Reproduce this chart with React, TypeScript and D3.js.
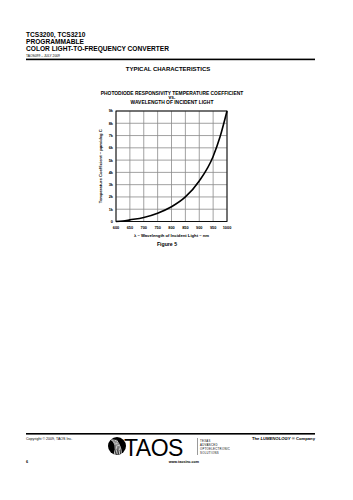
import React from "react";
import * as d3 from "d3";

const wavelengths = [600, 625, 650, 700, 750, 800, 850, 900, 950, 975, 1000];
const tempCoef = [0, 40, 130, 330, 680, 1200, 2000, 3300, 5300, 6900, 9000];
const xTicks = [600, 650, 700, 750, 800, 850, 900, 950, 1000];
const yTicks = [0, 1000, 2000, 3000, 4000, 5000, 6000, 7000, 8000, 9000];
const yTickLabels = ["0", "1k", "2k", "3k", "4k", "5k", "6k", "7k", "8k", "9k"];
const headerLines = ["TCS3200, TCS3210", "PROGRAMMABLE", "COLOR LIGHT-TO-FREQUENCY CONVERTER"];
const titleLines = ["PHOTODIODE RESPONSIVITY TEMPERATURE COEFFICIENT", "vs.", "WAVELENGTH OF INCIDENT LIGHT"];
const taosWords = ["TEXAS", "ADVANCED", "OPTOELECTRONIC", "SOLUTIONS"];

const W = 353, H = 500;
const plot = { left: 116, right: 227, top: 111, bottom: 221.5 };
const F = "'Liberation Sans', Arial, sans-serif";

export default function App() {
  const x = d3.scaleLinear().domain([600, 1000]).range([plot.left, plot.right]);
  const y = d3.scaleLinear().domain([0, 9000]).range([plot.bottom, plot.top]);
  const line = d3
    .line<number>()
    .x((_, i) => x(wavelengths[i]))
    .y((d) => y(d))
    .curve(d3.curveMonotoneX);
  const path = line(tempCoef) || "";
  const cx = (plot.left + plot.right) / 2;

  return (
    <svg width={W} height={H} viewBox={`0 0 ${W} ${H}`}
      style={{ position: "absolute", left: 0, top: 0, background: "#fff" }} fontFamily={F}>
      <rect x={0} y={0} width={W} height={H} fill="#fff" />
      {/* header */}
      {headerLines.map((t, i) => (
        <text key={t} x={26} y={37.3 + i * 6.6} fontSize={6.6} fontWeight="bold" fill="#000">{t}</text>
      ))}
      <text x={26} y={57.3} fontSize={3.3} fill="#000">TAOS099 – JULY 2009</text>
      <rect x={26} y={58.6} width={289} height={1.6} fill="#000" />
      <text x={168} y={70.5} fontSize={6} fontWeight="bold" textAnchor="middle">TYPICAL CHARACTERISTICS</text>

      {/* chart title */}
      {titleLines.map((t, i) => (
        <text key={t} x={172} y={94.5 + i * 4.9} fontSize={4.9} fontWeight="bold" textAnchor="middle">{t}</text>
      ))}

      {/* grid */}
      {xTicks.map((v) => (
        <line key={"gx" + v} x1={x(v)} x2={x(v)} y1={plot.top} y2={plot.bottom} stroke="#8a8a8a" strokeWidth={0.8} />
      ))}
      {yTicks.map((v) => (
        <line key={"gy" + v} x1={plot.left} x2={plot.right} y1={y(v)} y2={y(v)} stroke="#8a8a8a" strokeWidth={0.8} />
      ))}
      <rect x={plot.left} y={plot.top} width={plot.right - plot.left} height={plot.bottom - plot.top}
        fill="none" stroke="#000" strokeWidth={0.9} />
      <path d={path} fill="none" stroke="#000" strokeWidth={1.6} />

      {/* tick labels */}
      {xTicks.map((v) => (
        <text key={"tx" + v} x={x(v)} y={228.5} fontSize={3.9} fontWeight="bold" textAnchor="middle">{v}</text>
      ))}
      {yTicks.map((v, i) => (
        <text key={"ty" + v} x={plot.left - 3} y={y(v) + 1.4} fontSize={3.9} fontWeight="bold" textAnchor="end">{yTickLabels[i]}</text>
      ))}
      <text x={cx} y={236.5} fontSize={4.2} fontWeight="bold" textAnchor="middle">λ – Wavelength of Incident Light – nm</text>
      <text transform={`translate(101.5, ${(plot.top + plot.bottom) / 2}) rotate(-90)`} fontSize={4.2} fontWeight="bold" textAnchor="middle">
        Temperature Coefficient – ppm/deg C
      </text>
      <text x={167} y={245.5} fontSize={5.2} fontWeight="bold" textAnchor="middle">Figure 5</text>

      {/* footer */}
      <rect x={26} y={433} width={289} height={1.6} fill="#000" />
      <text x={26} y={440} fontSize={3.6} fill="#000">Copyright © 2009, TAOS Inc.</text>
      <text x={315} y={440} fontSize={4.2} fontWeight="bold" textAnchor="end">
        The <tspan fontStyle="italic">LUMENOLOGY</tspan> ® Company
      </text>
      <text x={26} y={463} fontSize={3.8} fontWeight="bold">6</text>
      {/* logo */}
      <g>
        <circle cx={117} cy={446} r={9} fill="#000" />
        {[0, 1, 2, 3, 4].map((k) => (
          <path key={k} d={`M ${110 + k * 1.6} ${439 + k * 0.2} Q ${118 + k} ${443 + k * 1.2} ${114 + k * 1.8} ${455 - k * 0.3}`}
            fill="none" stroke="#fff" strokeWidth={0.8} />
        ))}
        <text x={124} y={455.5} fontSize={23} fill="#000" style={{ letterSpacing: "-0.5px" }}>TAOS</text>
        <line x1={197.5} y1={438} x2={197.5} y2={455} stroke="#000" strokeWidth={0.4} />
        {taosWords.map((t, i) => (
          <text key={t} x={200} y={441.5 + i * 4} fontSize={2.8} fill="#000" style={{ letterSpacing: "0.3px" }}>{t}</text>
        ))}
        <text x={199} y={463} fontSize={3.6} fontWeight="bold" textAnchor="end">www.taosinc.com</text>
      </g>
    </svg>
  );
}
